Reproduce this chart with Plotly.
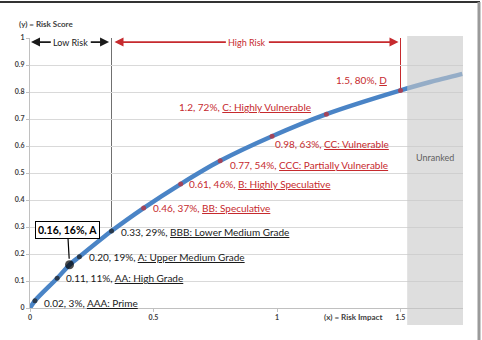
import plotly.graph_objects as go

# ---- data ----
impact = [0.02, 0.11, 0.16, 0.20, 0.33, 0.46, 0.61, 0.77, 0.98, 1.2, 1.5]
score = [0.027, 0.11, 0.16, 0.19, 0.285, 0.37, 0.459, 0.545, 0.636, 0.718, 0.806]
impact_text = ["0.02", "0.11", "0.16", "0.20", "0.33", "0.46", "0.61", "0.77", "0.98", "1.2", "1.5"]
pct_text = ["3%", "11%", "16%", "19%", "29%", "37%", "46%", "54%", "63%", "72%", "80%"]
grades = ["AAA: Prime", "AA: High Grade", "A", "A: Upper Medium Grade",
          "BBB: Lower Medium Grade", "BB: Speculative", "B: Highly Speculative",
          "CCC: Partially Vulnerable", "CC: Vulnerable", "C: Highly Vulnerable", "D"]
zone = ["low", "low", "low", "low", "low", "high", "high", "high", "high", "high", "high"]
highlight = 2  # index of boxed point (0.16, 16%, A)

curve_x = [0, 0.02, 0.11, 0.16, 0.20, 0.33, 0.46, 0.61, 0.77, 0.98, 1.2, 1.5, 1.62, 1.75]
curve_y = [0, 0.027, 0.11, 0.16, 0.19, 0.285, 0.37, 0.459, 0.545, 0.636, 0.718, 0.806, 0.837, 0.867]

y_ticks = [0, 0.1, 0.2, 0.3, 0.4, 0.5, 0.6, 0.7, 0.8, 0.9, 1]
x_ticks = [0, 0.5, 1, 1.5]
boundary_low_high = 0.33
boundary_ranked = 1.5
unranked_start = 1.527
x_max = 1.753

# ---- styling ----
FONT = "Lato"
RED = "#c62a2e"
BLACK = "#1a1a1a"
BLUE = "#4a84c6"
zone_color = {"low": BLACK, "high": RED}
# per-label offsets (xshift, yshift, xanchor)
label_pos = [(7, -2, "left"), (7, 0, "left"), None, (8, 0, "left"),
             (7, -1, "left"), (7, 0, "left"), (6, 0, "left"), (8, -4, "left"),
             (1, -8, "left"), (-13, 7, "right"), (-12, 10, "right")]

W, H = 482, 340
ML, MR, MT, MB = 30, 19, 38, 32
PW, PH = W - ML - MR, H - MT - MB


def px(xp):
    return (xp - ML) / PW


def py(yp):
    return (H - MB - yp) / PH


fig = go.Figure()
fig.add_trace(go.Scatter(x=curve_x, y=curve_y, mode="lines",
                         line=dict(color=BLUE, width=4.5, shape="spline", smoothing=0.8),
                         hoverinfo="skip", showlegend=False))
sizes = [9 if i == highlight else 5 for i in range(len(impact))]
colors = [zone_color[z] if i != highlight else "black" for i, z in enumerate(zone)]
fig.add_trace(go.Scatter(x=impact, y=score, mode="markers",
                         marker=dict(color=colors, size=sizes, line=dict(width=0)),
                         showlegend=False))

annotations = []
for i in range(len(impact)):
    if i == highlight:
        annotations.append(dict(
            x=impact[i], y=score[i], xref="x", yref="y",
            text=f"<b>{impact_text[i]}, {pct_text[i]}, {grades[i]}</b>",
            showarrow=True, arrowhead=0, arrowwidth=1.2, arrowcolor="black",
            ax=-2, ay=-35, standoff=6, bordercolor="black", borderwidth=1,
            borderpad=2, bgcolor="white",
            font=dict(family=FONT, size=10.5, color="black")))
        continue
    xs, ys, xa = label_pos[i]
    annotations.append(dict(
        x=impact[i], y=score[i], xref="x", yref="y",
        text=f"{impact_text[i]}, {pct_text[i]}, <u>{grades[i]}</u>",
        showarrow=False, xanchor=xa, yanchor="middle", xshift=xs, yshift=ys,
        font=dict(family=FONT, size=10, color=zone_color[zone[i]])))


def range_arrow(x0, x1, xmid, yv, label, color):
    out = []
    for k, tip in enumerate((x1, x0)):
        out.append(dict(x=tip, y=yv, ax=xmid, ay=yv, xref="x", yref="y",
                        axref="x", ayref="y", text=label, showarrow=True,
                        arrowhead=2, arrowsize=1, arrowwidth=1.8, arrowcolor=color,
                        borderpad=2, bgcolor="rgba(0,0,0,0)",
                        font=dict(family=FONT, size=9,
                                  color=color if k == 0 else "rgba(0,0,0,0)")))
    return out


annotations += range_arrow(0.004, boundary_low_high - 0.01, 0.165, 0.985, "Low Risk", BLACK)
annotations += range_arrow(boundary_low_high + 0.012, boundary_ranked - 0.008, 0.88, 0.985,
                           "High Risk", RED)

annotations.append(dict(x=px(17), y=py(24), xref="paper", yref="paper",
                        text="<b>(y) = Risk Score</b>", showarrow=False,
                        xanchor="left", yanchor="middle",
                        font=dict(family=FONT, size=8, color="#404040")))
annotations.append(dict(x=px(322), y=py(317), xref="paper", yref="paper",
                        text="<b>(x) = Risk Impact</b>", showarrow=False,
                        xanchor="left", yanchor="middle",
                        font=dict(family=FONT, size=8, color="#404040")))
annotations.append(dict(x=(unranked_start + x_max) / 2, y=0.556, xref="x", yref="y",
                        text="Unranked", showarrow=False,
                        font=dict(family=FONT, size=9, color="#606060")))

bbb = 4
shapes = [
    dict(type="line", xref="x", yref="y", x0=impact[bbb], x1=impact[bbb],
         y0=1, y1=score[bbb], line=dict(color="#707070", width=1), layer="below"),
    dict(type="line", xref="x", yref="y", x0=impact[-1], x1=impact[-1],
         y0=1, y1=score[-1], line=dict(color=RED, width=1), layer="below"),
    dict(type="rect", xref="x", yref="paper", x0=unranked_start, x1=x_max,
         y0=py(325), y1=py(36), fillcolor="rgba(200,200,200,0.6)",
         line=dict(width=0), layer="above"),
    dict(type="line", xref="paper", yref="paper", x0=px(0), x1=px(480),
         y0=py(2), y1=py(2), line=dict(color="#333333", width=2)),
    dict(type="line", xref="paper", yref="paper", x0=px(479), x1=px(479),
         y0=py(2), y1=py(341), line=dict(color="#9a9a9a", width=3)),
]

fig.update_layout(
    width=W, height=H, margin=dict(l=ML, r=MR, t=MT, b=MB, pad=0),
    paper_bgcolor="white", plot_bgcolor="white",
    annotations=annotations, shapes=shapes, showlegend=False,
    xaxis=dict(range=[0, x_max], tickvals=x_ticks, showgrid=False, zeroline=False,
               showline=True, linecolor="#c0c0c0", linewidth=1,
               ticks="outside", ticklen=3, tickcolor="#c0c0c0",
               tickfont=dict(family=FONT, size=7, color="#404040", weight="bold")),
    yaxis=dict(range=[0, 1], tickvals=y_ticks, showgrid=True, gridcolor="#d9d9d9",
               gridwidth=1, zeroline=False, showline=True, linecolor="#c0c0c0",
               linewidth=1, ticks="outside", ticklen=3, tickcolor="#c0c0c0",
               tickfont=dict(family=FONT, size=7, color="#404040", weight="bold")),
)

fig.write_html("out.html")
